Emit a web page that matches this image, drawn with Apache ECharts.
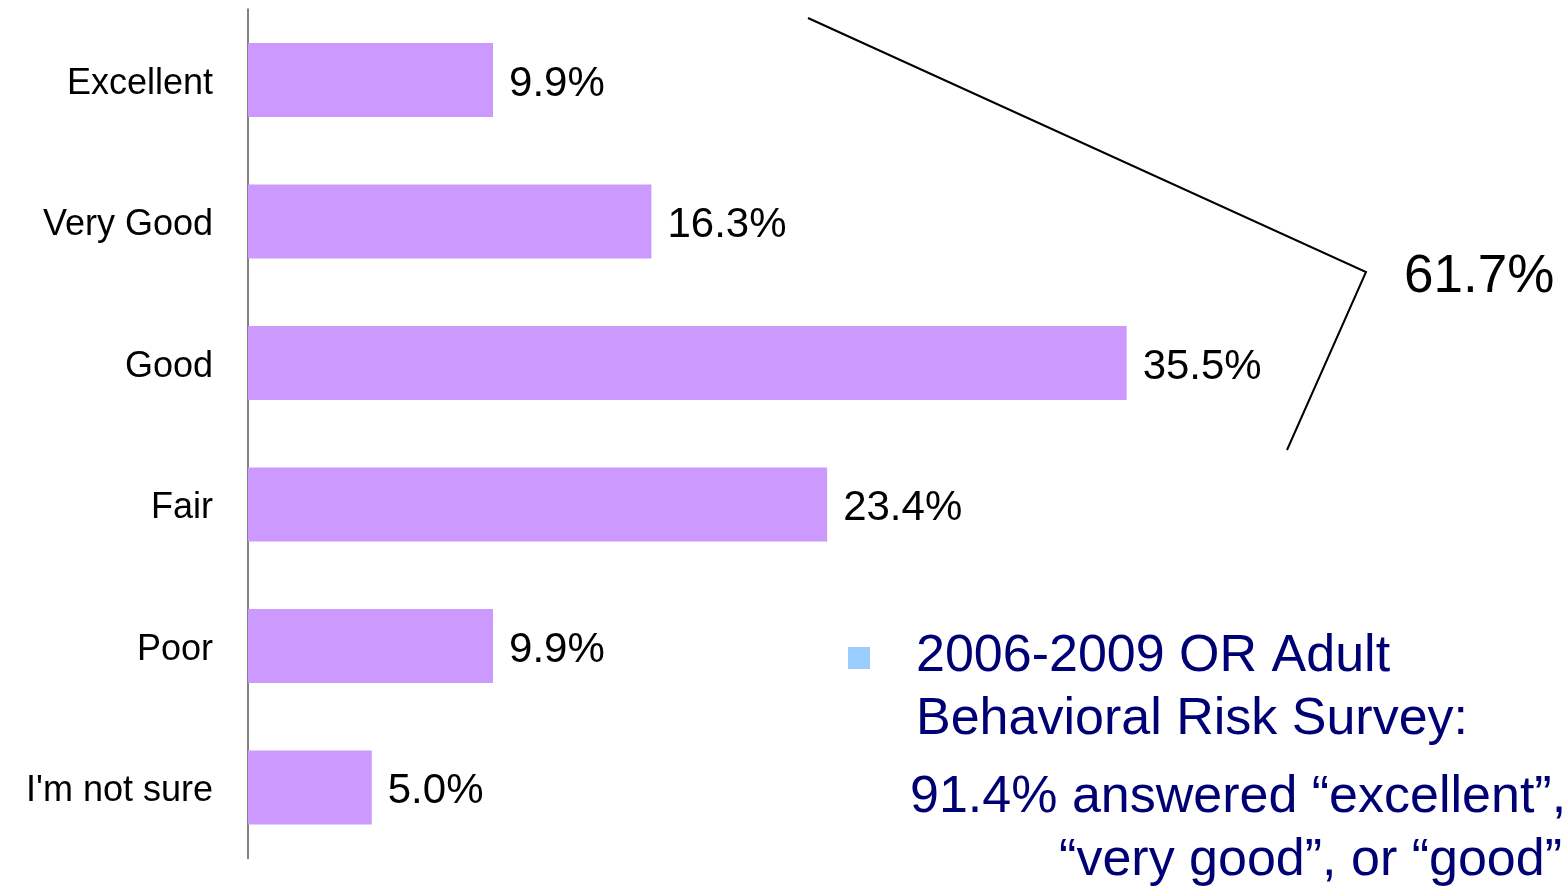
<!DOCTYPE html>
<html><head><meta charset="utf-8">
<script src="https://cdn.jsdelivr.net/npm/echarts@6/dist/echarts.min.js"></script>
<style>html,body{margin:0;padding:0;background:#fff}#c{width:1562px;height:887px}</style>
</head><body><div id="c"></div>
<script>
const categories = ["Excellent", "Very Good", "Good", "Fair", "Poor", "I'm not sure"];
const values = [9.9, 16.3, 35.5, 23.4, 9.9, 5.0];
const bracketLabel = "61.7%";
const noteLines = ["2006-2009 OR Adult", "Behavioral Risk Survey:", "91.4% answered \u201cexcellent\u201d,", "\u201cvery good\u201d, or \u201cgood\u201d"];
const FONT = "'Liberation Sans', Arial, sans-serif";

function noteText(str, x, baseline, align) {
  return { type: 'text', x: x, y: baseline - 16, style: { text: str, fontSize: 52, fontFamily: FONT, fill: '#000075', align: align || 'left', verticalAlign: 'middle' } };
}

const chart = echarts.init(document.getElementById('c'));
chart.setOption({
  animation: false,
  grid: { left: 248, right: 76.5, top: 9.25, bottom: 28.75, containLabel: false },
  xAxis: { type: 'value', min: 0, max: 50, show: false },
  yAxis: {
    type: 'category', data: categories, inverse: true,
    axisLine: { show: true, lineStyle: { color: '#808080', width: 2 } },
    axisTick: { show: false },
    axisLabel: { color: '#000', fontSize: 36, fontFamily: FONT, margin: 35,
      formatter: v => '{a|' + v + '}',
      rich: { a: { fontSize: 36, fontFamily: FONT, color: '#000', padding: [8, 0, 0, 0] } } }
  },
  series: [{
    type: 'bar', data: values, barWidth: 74,
    itemStyle: { color: '#CC99FF' },
    label: { show: true, position: 'right', distance: 16, color: '#000', fontSize: 42, fontFamily: FONT,
      offset: [0, 4],
      formatter: p => p.value.toFixed(1) + '%' }
  }],
  graphic: [
    { type: 'polyline', shape: { points: [[808, 18], [1366, 272], [1287, 450]] }, style: { stroke: '#000', lineWidth: 2, fill: null } },
    { type: 'text', x: 1404, y: 277, style: { text: bracketLabel, fontSize: 53, fontFamily: FONT, fill: '#000', verticalAlign: 'middle' } },
    { type: 'rect', shape: { x: 848, y: 647, width: 22, height: 22 }, style: { fill: '#99CCFF' } },
    noteText(noteLines[0], 916, 673),
    noteText(noteLines[1], 916, 736),
    noteText(noteLines[2], 910, 814),
    noteText(noteLines[3], 1562, 877, 'right')
  ]
});
</script></body></html>
